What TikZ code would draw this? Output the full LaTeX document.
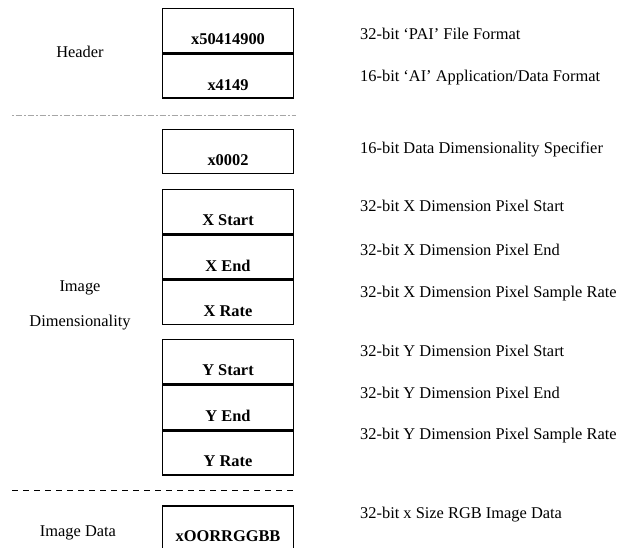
\documentclass[tikz,border=0pt]{standalone}
\usepackage{fontspec}
\setmainfont{Liberation Serif}
\usetikzlibrary{positioning}
\begin{document}
\begin{tikzpicture}[x=1pt, y=-1pt, font=\fontsize{16.4}{19}\selectfont,
  field/.style={draw, line width=1.5pt, minimum width=131pt, minimum height=44pt,
    text height=28pt, text depth=0pt, inner sep=0pt,
    font=\fontsize{16.4}{19}\selectfont\bfseries},
  note/.style={anchor=west, inner sep=0pt}]
  \useasboundingbox (0,0) rectangle (619,548);
  % header fields
  \node[field, anchor=north] (magic) at (228,8) {x50414900};
  \node[field, below=0pt of magic] (app) {x4149};
  \draw[gray!70, line width=0.8pt, dash pattern=on 1.5pt off 2pt on 6pt off 2.5pt] (12,115) -- (296,115);
  % dimensionality fields
  \node[field, anchor=north] (dims) at (228,129) {x0002};
  \node[field, anchor=north] (xstart) at (228,189) {X Start};
  \node[field, below=0pt of xstart] (xend) {X End};
  \node[field, below=0pt of xend] (xrate) {X Rate};
  \node[field, anchor=north] (ystart) at (228,339) {Y Start};
  \node[field, below=0pt of ystart] (yend) {Y End};
  \node[field, below=0pt of yend] (yrate) {Y Rate};
  \draw[line width=1pt, dash pattern=on 6pt off 5pt] (12,490) -- (296,490);
  % image data
  \node[field, anchor=north] (pixels) at (228,505) {xOORRGGBB};
  % left labels
  \node (header) at (80,52) {Header};
  \node (image) at (80,288) {Image};
  \node (dimensionality) at (80,323) {Dimensionality};
  \node (imagedata) at (78,533) {Image Data};
  % right labels
  \node[note] (magicnote) at (360,34) {32-bit `PAI' File Format};
  \node[note] (appnote) at (360,78) {16-bit `AI' Application/Data Format};
  \node[note] (dimsnote) at (360,149) {16-bit Data Dimensionality Specifier};
  \node[note] (xstartnote) at (360,206) {32-bit X Dimension Pixel Start};
  \node[note] (xendnote) at (360,250) {32-bit X Dimension Pixel End};
  \node[note] (xratenote) at (360,294) {32-bit X Dimension Pixel Sample Rate};
  \node[note] (ystartnote) at (360,351) {32-bit Y Dimension Pixel Start};
  \node[note] (yendnote) at (360,393) {32-bit Y Dimension Pixel End};
  \node[note] (yratenote) at (360,436) {32-bit Y Dimension Pixel Sample Rate};
  \node[note] (pixelsnote) at (360,515) {32-bit x Size RGB Image Data};
\end{tikzpicture}
\end{document}
